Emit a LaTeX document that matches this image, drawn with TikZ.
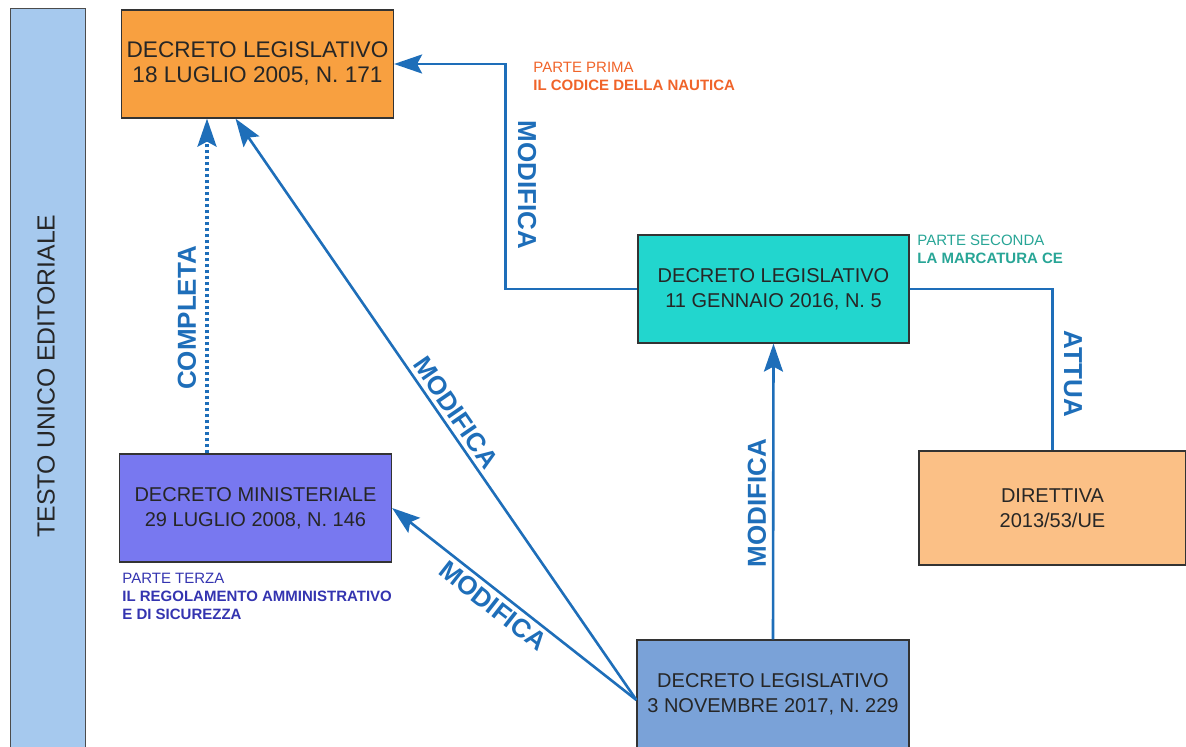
\documentclass[tikz,border=0pt]{standalone}
\usepackage{fontspec}
\setmainfont{Liberation Sans}
\usetikzlibrary{arrows.meta}
\definecolor{barblue}{HTML}{A6C9EE}
\definecolor{dlorange}{HTML}{F8A040}
\definecolor{dlteal}{HTML}{22D6CE}
\definecolor{dmpurple}{HTML}{7878F0}
\definecolor{dlblue}{HTML}{7AA2D8}
\definecolor{dirorange}{HTML}{FBC086}
\definecolor{relblue}{HTML}{1E6EB9}
\definecolor{noteorange}{HTML}{F0642A}
\definecolor{noteteal}{HTML}{28A596}
\definecolor{notepurple}{HTML}{3434B0}

\begin{document}
\begin{tikzpicture}[x=0.5pt,y=-0.5pt,
  head/.style={draw=black!80,line width=0.6pt,minimum width=136pt,minimum height=54pt,inner sep=2pt,align=center,text=black!85,font=\fontsize{10}{12.5}\selectfont},
  rel/.style={draw=relblue,line width=1.3pt},
  arr/.style={rel,-{Stealth[length=14pt,width=9.5pt,inset=2.5pt]}},
  verb/.style={text=relblue,inner sep=2pt,font=\fontsize{13}{16}\selectfont\bfseries},
  note/.style={anchor=north west,inner sep=0pt,align=left,font=\fontsize{7.5}{9}\selectfont}]
\useasboundingbox (0,0) rectangle (1186,746);
\clip (0,0) rectangle (1186,746);
% side bar
\node[draw=black!70,line width=0.6pt,fill=barblue,minimum width=37.5pt,minimum height=380pt,anchor=north west] (bar) at (10,8) {};
\node[rotate=90,text=black!85,font=\fontsize{12.4}{14}\selectfont] (tue) at (46,376) {TESTO UNICO EDITORIALE};
% acts
\node[head,fill=dlorange,font=\fontsize{11.3}{12.5}\selectfont] (dl171) at (257.5,64) {DECRETO LEGISLATIVO\\18 LUGLIO 2005, N. 171};
\node[head,fill=dlteal,minimum width=135.5pt] (dl5) at (773.5,289) {DECRETO LEGISLATIVO\\11 GENNAIO 2016, N. 5};
\node[head,fill=dmpurple] (dm146) at (255.5,508) {DECRETO MINISTERIALE\\29 LUGLIO 2008, N. 146};
\node[head,fill=dlblue] (dl229) at (773,694) {DECRETO LEGISLATIVO\\3 NOVEMBRE 2017, N. 229};
\node[head,fill=dirorange,minimum width=133.5pt,minimum height=57pt] (dir) at (1052.5,508) {DIRETTIVA\\2013/53/UE};
% parts
\node[note,text=noteorange] (p1) at (533,62) {PARTE PRIMA\\\textbf{IL CODICE DELLA NAUTICA}};
\node[note,text=noteteal] (p2) at (917,235) {PARTE SECONDA\\\textbf{LA MARCATURA CE}};
\node[note,text=notepurple] (p3) at (122,573) {PARTE TERZA\\\textbf{IL REGOLAMENTO AMMINISTRATIVO}\\\textbf{E DI SICUREZZA}};
% relations
\coordinate (cx) at (207,0);
\draw[arr] (dl5.west) -- ++(-132,0) |- (dl171.east);
\draw[rel] (dl5.east) -| (dir.north);
\draw[arr,line width=1.6pt,dash pattern=on 1.5pt off 1.5pt] (dm146.north -| cx) -- (dl171.south -| cx);
\draw[arr] ([yshift=-3pt]dl229.west) -- node[verb,sloped,above,pos=0.48] (m2) {MODIFICA} ([xshift=-11pt]dl171.south);
\draw[arr] ([yshift=-3pt]dl229.west) -- node[verb,sloped,below,pos=0.55] (m3) {MODIFICA} (dm146.east);
\draw[arr] (dl229.north) -- (dl5.south);
\node[verb,rotate=-90] (m1) at (527,185) {MODIFICA};
\node[verb,rotate=-90] (at) at (1073,374) {ATTUA};
\node[verb,rotate=90] (co) at (187,318) {COMPLETA};
\node[verb,rotate=90] (m4) at (757,503) {MODIFICA};
\end{tikzpicture}
\end{document}
